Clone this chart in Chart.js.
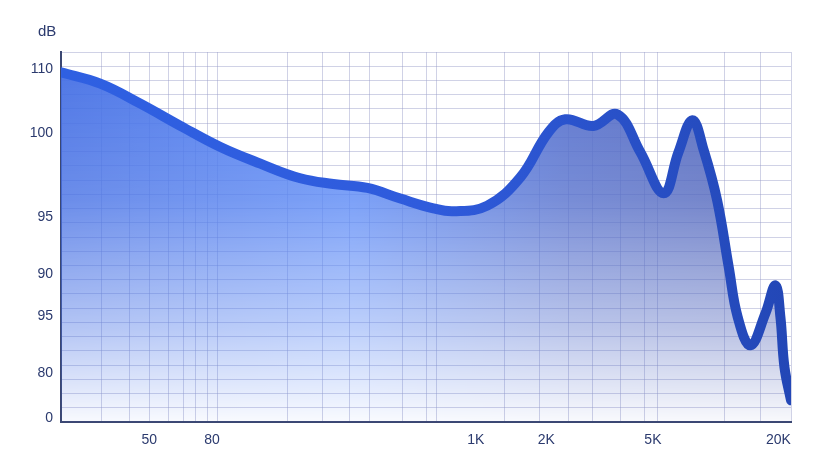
<!DOCTYPE html>
<html>
<head>
<meta charset="utf-8">
<script src="https://cdn.jsdelivr.net/npm/chart.js@4.4.1/dist/chart.umd.min.js"></script>
<style>
  body { margin: 0; background: #ffffff; }
</style>
</head>
<body>
<canvas id="chartCanvas" width="830" height="464"></canvas>
<script>
// frequency response (Hz) and level
const freqs = [22.3, 31.95, 46.1, 66.5, 95.9, 138.3, 199.4, 269.6, 368.4, 498.4, 673.9, 809.3, 1105, 1495, 1931, 2257, 2917, 3633, 4485, 5550, 6351, 7218, 8008, 9050, 10067, 10927, 12278, 14085, 15436, 16154, 16761, 17800];
const levels = [109.15, 107.56, 104.75, 101.63, 98.65, 96.31, 94.25, 93.45, 92.89, 91.4, 90.03, 89.61, 90.41, 94.39, 100.71, 102.54, 101.6, 103.24, 97.9, 92.14, 97.9, 102.4, 98.18, 91.16, 81.78, 74.75, 70.78, 75.27, 79.21, 74.75, 67.73, 63.05];

// axis labels as printed (positions on the axis, then text)
const xLabelPos = [50, 88.9, 993, 1896, 5029, 15864];
const xLabels = ['50', '80', '1K', '2K', '5K', '20K'];
const yLabelPos = [109.57, 100.6, 88.8, 80.85, 74.85, 66.9, 60.5];
const yLabels = ['110', '100', '95', '90', '95', '80', '0'];

// grid lines
const xGrid = [32.3, 41.8, 50.3, 59.4, 68.2, 76.3, 84.9, 93.0, 177.6, 244.6, 311.5, 374.0, 507.6, 632.2, 692.9, 1294, 1784, 2313, 2881, 3735, 4665, 5227, 9678, 13416, 17800];
const yGrid = [];
for (let v = 60; v <= 112; v += 2) yGrid.push(v);

const textColor = '#2b3a6e';
const gridColor = 'rgba(150, 156, 200, 0.45)';
const fontFamily = '"Liberation Sans", Arial, sans-serif';

let fillPattern = null;
let lineGradient = null;

function makeFill(chart) {
    const a = chart.chartArea;
    const off = document.createElement('canvas');
    off.width = chart.width;
    off.height = chart.height;
    const octx = off.getContext('2d');
    const h = octx.createLinearGradient(a.left, 0, a.right, 0);
    h.addColorStop(0, 'rgb(70, 112, 228)');
    h.addColorStop(0.4, 'rgb(92, 138, 246)');
    h.addColorStop(0.7, 'rgb(86, 112, 204)');
    h.addColorStop(1, 'rgb(82, 100, 182)');
    octx.fillStyle = h;
    octx.fillRect(0, 0, off.width, off.height);
    octx.globalCompositeOperation = 'destination-in';
    const v = octx.createLinearGradient(0, a.top, 0, a.bottom);
    v.addColorStop(0, 'rgba(0,0,0,0.97)');
    v.addColorStop(0.4, 'rgba(0,0,0,0.8)');
    v.addColorStop(0.75, 'rgba(0,0,0,0.4)');
    v.addColorStop(1, 'rgba(0,0,0,0.04)');
    octx.fillStyle = v;
    octx.fillRect(0, 0, off.width, off.height);
    return chart.ctx.createPattern(off, 'no-repeat');
}

const dbLabel = {
    id: 'dbLabel',
    afterDraw(chart) {
        const ctx = chart.ctx;
        ctx.save();
        ctx.font = '15px ' + fontFamily;
        ctx.fillStyle = textColor;
        ctx.textAlign = 'left';
        ctx.textBaseline = 'middle';
        ctx.fillText('dB', chart.chartArea.left - 23, chart.chartArea.top - 20);
        ctx.restore();
    }
};

const ctx = document.getElementById('chartCanvas').getContext('2d');
new Chart(ctx, {
    type: 'line',
    data: {
        datasets: [{
            data: freqs.map((f, i) => ({ x: f, y: levels[i] })),
            borderWidth: 10,
            borderColor: (c) => {
                const a = c.chart.chartArea;
                if (!a) return '#2d55d0';
                if (!lineGradient) {
                    lineGradient = c.chart.ctx.createLinearGradient(a.left, 0, a.right, 0);
                    lineGradient.addColorStop(0, '#2f60e2');
                    lineGradient.addColorStop(0.5, '#2f5bdc');
                    lineGradient.addColorStop(1, '#2347b6');
                }
                return lineGradient;
            },
            backgroundColor: (c) => {
                if (!c.chart.chartArea) return 'rgba(80,120,230,0.6)';
                if (!fillPattern) fillPattern = makeFill(c.chart);
                return fillPattern;
            },
            fill: 'start',
            pointRadius: 0,
            tension: 0.4,
            borderCapStyle: 'round',
            borderJoinStyle: 'round',
            clip: 0
        }]
    },
    options: {
        responsive: false,
        animation: false,
        devicePixelRatio: 1,
        layout: { padding: { top: 52, right: 39, left: 0, bottom: 0 } },
        plugins: {
            legend: { display: false },
            tooltip: { enabled: false }
        },
        scales: {
            x: {
                type: 'logarithmic',
                min: 22.3,
                max: 17800,
                bounds: 'data',
                afterBuildTicks: (scale) => {
                    scale.ticks = xGrid.concat(xLabelPos).map(v => ({ value: v }));
                },
                afterFit: (scale) => { scale.height = 42; },
                grid: {
                    drawTicks: false,
                    lineWidth: 1,
                    color: (c) => (c.tick && xGrid.includes(c.tick.value)) ? gridColor : 'transparent'
                },
                border: { color: '#3b4772', width: 2 },
                ticks: {
                    autoSkip: false,
                    maxRotation: 0,
                    padding: 10,
                    color: textColor,
                    font: { size: 14, family: fontFamily },
                    callback: (value) => {
                        const i = xLabelPos.indexOf(value);
                        return i >= 0 ? xLabels[i] : '';
                    }
                }
            },
            y: {
                type: 'linear',
                min: 60,
                max: 112,
                bounds: 'data',
                afterBuildTicks: (scale) => {
                    scale.ticks = yGrid.concat(yLabelPos).map(v => ({ value: v }));
                },
                afterFit: (scale) => { scale.width = 61; },
                grid: {
                    drawTicks: false,
                    lineWidth: 1,
                    color: (c) => (c.tick && yGrid.includes(c.tick.value)) ? gridColor : 'transparent'
                },
                border: { color: '#3b4772', width: 2 },
                ticks: {
                    autoSkip: false,
                    padding: 8,
                    color: textColor,
                    font: { size: 14, family: fontFamily },
                    callback: (value) => {
                        const i = yLabelPos.indexOf(value);
                        return i >= 0 ? yLabels[i] : '';
                    }
                }
            }
        }
    },
    plugins: [dbLabel]
});
</script>
</body>
</html>
